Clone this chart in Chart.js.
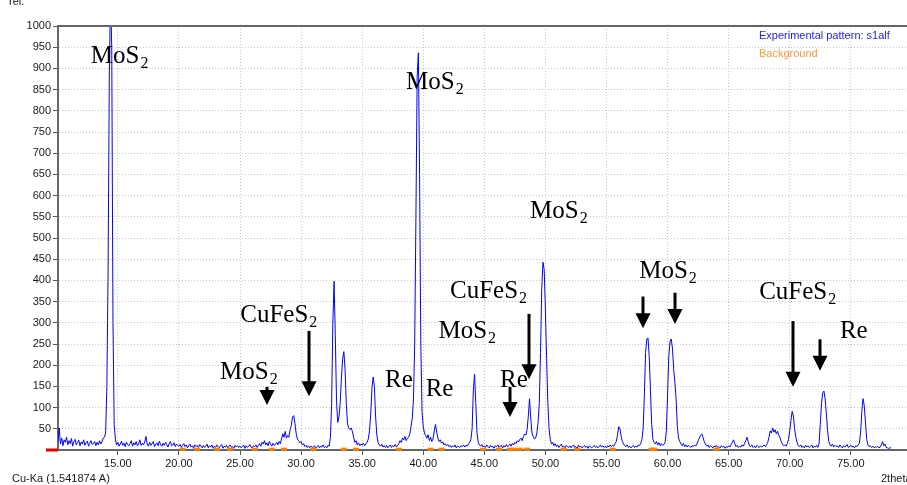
<!DOCTYPE html>
<html lang="en">
<head>
<meta charset="utf-8">
<title>XRD pattern s1alf</title>
<script src="https://cdn.jsdelivr.net/npm/chart.js"></script>
<style>
	html, body { margin: 0; padding: 0; background: #fff; }
	#wrap { width: 907px; height: 485px; }
</style>
</head>
<body>
<div id="wrap"><canvas id="xrd" width="907" height="485"></canvas></div>
<script>
// scan: 2theta from 10.1 deg, 0.1 deg apart; counts, one row per degree
const scanStart = 10.1;
const scanStep = 0.1;
const counts = [
	20, 52, 14, 28, 10, 24, 18, 30, 12,
	22, 15, 27, 9, 20, 25, 12, 18, 23, 10,
	19, 14, 24, 11, 17, 21, 9, 16, 22, 13,
	15, 20, 10, 18, 12, 22, 14, 19, 28, 30,
	40, 150, 420, 880, 1070, 950, 300, 60, 25, 12,
	18, 9, 14, 21, 11, 16, 8, 19, 13, 10,
	15, 22, 9, 17, 12, 20, 10, 14, 24, 11,
	16, 12, 19, 32, 14, 9, 18, 11, 15, 20,
	8, 14, 17, 10, 21, 12, 9, 16, 11, 18,
	13, 7, 15, 20, 10, 12, 17, 8, 14, 11,
	9, 13, 6, 11, 15, 8, 12, 5, 10, 14,
	7, 10, 4, 12, 8, 11, 6, 13, 9, 5,
	11, 6, 9, 14, 5, 10, 7, 12, 4, 9,
	6, 12, 8, 5, 10, 13, 4, 9, 7, 11,
	5, 9, 12, 6, 8, 4, 11, 7, 10, 6,
	9, 5, 8, 12, 4, 10, 6, 9, 13, 7,
	5, 10, 8, 12, 6, 11, 15, 9, 18, 14,
	22, 12, 17, 10, 20, 14, 9, 16, 11, 13,
	18, 12, 20, 15, 26, 38, 30, 44, 28, 34,
	30, 48, 58, 78, 81, 62, 38, 26, 22, 17,
	20, 12, 15, 8, 11, 6, 10, 5, 9, 7,
	6, 10, 4, 8, 11, 5, 9, 7, 12, 6,
	8, 5, 11, 9, 30, 110, 300, 398, 270, 115,
	65, 78, 110, 170, 215, 232, 190, 110, 62, 52,
	48, 52, 44, 30, 18, 22, 12, 17, 10, 14,
	12, 16, 10, 14, 18, 26, 45, 85, 145, 172,
	150, 78, 35, 18, 12, 9, 14, 7, 10, 6,
	11, 5, 9, 12, 6, 10, 8, 13, 7, 11,
	15, 22, 18, 28, 24, 32, 22, 28, 30, 38,
	55, 75, 120, 250, 550, 880, 937, 650, 250, 90,
	55, 40, 34, 28, 36, 22, 30, 20, 26, 45,
	60, 42, 28, 20, 24, 16, 19, 12, 15, 10,
	13, 8, 11, 6, 10, 7, 12, 5, 9, 8,
	6, 10, 8, 12, 7, 11, 9, 14, 18, 25,
	50, 140, 179, 110, 40, 18, 12, 9, 13, 7,
	10, 6, 12, 8, 5, 11, 7, 9, 4, 10,
	8, 12, 6, 9, 11, 5, 10, 7, 13, 8,
	10, 14, 9, 16, 12, 18, 15, 22, 19, 25,
	28, 22, 32, 38, 35, 48, 80, 121, 75, 40,
	32, 26, 28, 40, 65, 110, 230, 380, 443, 425,
	330, 215, 110, 50, 25, 14, 18, 10, 15, 8,
	12, 6, 10, 14, 7, 9, 5, 11, 8, 6,
	10, 5, 9, 12, 6, 8, 4, 11, 7, 9,
	5, 8, 11, 6, 9, 4, 10, 7, 5, 8,
	11, 6, 9, 5, 8, 12, 7, 10, 6, 9,
	5, 10, 7, 12, 8, 11, 9, 15, 20, 35,
	55, 50, 32, 20, 14, 10, 8, 12, 6, 9,
	5, 8, 11, 6, 9, 7, 12, 10, 15, 25,
	50, 130, 230, 262, 264, 220, 140, 60, 25, 18,
	14, 20, 12, 17, 10, 15, 11, 13, 18, 45,
	130, 220, 255, 262, 240, 190, 160, 120, 55, 28,
	20, 14, 10, 16, 8, 12, 7, 11, 9, 6,
	10, 8, 12, 9, 14, 22, 28, 34, 38, 30,
	20, 14, 9, 12, 6, 10, 8, 5, 9, 7,
	11, 6, 8, 5, 10, 7, 9, 4, 8, 6,
	10, 7, 12, 18, 24, 15, 8, 11, 6, 9,
	7, 12, 9, 15, 22, 30, 20, 10, 8, 12,
	6, 9, 5, 11, 8, 6, 10, 7, 9, 12,
	8, 12, 18, 30, 45, 40, 52, 42, 48, 38,
	44, 35, 30, 20, 14, 10, 12, 9, 15, 25,
	45, 70, 91, 80, 50, 30, 18, 10, 8, 12,
	6, 9, 5, 11, 7, 10, 6, 8, 12, 5,
	9, 7, 11, 6, 14, 60, 110, 135, 139, 120,
	85, 45, 20, 12, 9, 14, 7, 11, 8, 10,
	6, 12, 8, 5, 10, 7, 9, 13, 6, 8,
	11, 7, 9, 5, 10, 8, 12, 16, 40, 90,
	121, 105, 65, 25, 12, 8, 10, 6, 9, 5,
	8, 6, 9, 5, 7, 12, 20, 10, 14, 6,
	5, 3, 6, 4
];
const twoTheta = counts.map((c, i) => Math.round((scanStart + i * scanStep) * 10) / 10);

// background points (orange dashes along the base line)
const bgTheta = [20.3, 21.5, 23.1, 24.2, 26.2, 27.6, 28.6, 31.0, 33.5, 34.5, 38.0, 40.6, 41.5,
	44.9, 46.2, 47.1, 47.4, 47.9, 48.5, 51.5, 52.6, 55.5, 58.7, 58.9, 64.0];
const bgCounts = [2, 2, 2, 2, 2, 2, 2, 2, 2, 2, 2, 2, 2, 2, 2, 2, 2, 2, 2, 2, 2, 2, 2, 2, 2];

const xTicks = [15, 20, 25, 30, 35, 40, 45, 50, 55, 60, 65, 70, 75];
const yTicks = [50, 100, 150, 200, 250, 300, 350, 400, 450, 500, 550, 600, 650, 700, 750, 800, 850, 900, 950, 1000];

// phase labels: text, subscript, left edge (2theta), baseline (counts)
const phaseText = ['MoS', 'MoS', 'MoS', 'CuFeS', 'MoS', 'Re', 'Re', 'MoS', 'CuFeS', 'Re', 'MoS', 'CuFeS', 'Re'];
const phaseSub = ['2', '2', '2', '2', '2', '', '', '2', '2', '', '2', '2', ''];
const phaseTheta = [12.79, 38.59, 48.74, 25.02, 23.37, 36.87, 40.2, 41.24, 42.19, 46.28, 57.68, 67.5, 74.11];
const phaseCounts = [912, 851, 546, 303, 167, 149, 127, 265, 358, 149, 405, 355, 265];

// arrows: 2theta, tail (counts), tip (counts)
const arrowTheta = [27.24, 30.68, 47.1, 48.66, 57.96, 60.6, 70.29, 72.47];
const arrowFrom = [149, 281, 149, 321, 362, 371, 304, 261];
const arrowTo = [106, 127, 78, 167, 287, 297, 149, 187];

Chart.defaults.font.family = '"Liberation Sans", Arial, sans-serif';
Chart.defaults.font.size = 11;
Chart.defaults.color = '#1a1a1a';

const decor = {
	id: 'decor',
	afterDatasetsDraw(chart) {
		const ctx = chart.ctx;
		const a = chart.chartArea;
		const xs = chart.scales.x;
		const ys = chart.scales.y;
		ctx.save();

		// top frame line
		ctx.fillStyle = '#666';
		ctx.fillRect(a.left, a.top - 1, a.right - a.left, 2);

		// red zero marker left of the axis
		ctx.fillStyle = '#e00000';
		ctx.fillRect(a.left - 12, ys.getPixelForValue(0) - 1.5, 12, 3);

		// phase labels
		ctx.fillStyle = '#000';
		ctx.textBaseline = 'alphabetic';
		ctx.textAlign = 'left';
		for (let i = 0; i < phaseText.length; i++) {
			const px = xs.getPixelForValue(phaseTheta[i]);
			const py = ys.getPixelForValue(phaseCounts[i]);
			ctx.font = '25px "Liberation Serif", "Times New Roman", serif';
			ctx.fillText(phaseText[i], px, py);
			if (phaseSub[i]) {
				const w = ctx.measureText(phaseText[i]).width;
				ctx.font = '16px "Liberation Serif", "Times New Roman", serif';
				ctx.fillText(phaseSub[i], px + w + 1, py + 5);
			}
		}

		// arrows
		ctx.strokeStyle = '#000';
		ctx.lineWidth = 3;
		for (let i = 0; i < arrowTheta.length; i++) {
			const px = Math.round(xs.getPixelForValue(arrowTheta[i]));
			const y0 = ys.getPixelForValue(arrowFrom[i]);
			const y1 = ys.getPixelForValue(arrowTo[i]);
			ctx.beginPath();
			ctx.moveTo(px, y0);
			ctx.lineTo(px, y1 - 12);
			ctx.stroke();
			ctx.beginPath();
			ctx.moveTo(px - 7.5, y1 - 15);
			ctx.lineTo(px + 7.5, y1 - 15);
			ctx.lineTo(px, y1);
			ctx.closePath();
			ctx.fill();
		}

		// legend
		ctx.font = '11px "Liberation Sans", Arial, sans-serif';
		ctx.textBaseline = 'middle';
		ctx.fillStyle = '#2020ff';
		ctx.fillText(chart.data.datasets[0].label, a.right - 148, 36);
		ctx.fillStyle = '#ff9933';
		ctx.fillText(chart.data.datasets[1].label, a.right - 148, 54);

		// axis captions
		ctx.fillStyle = '#1a1a1a';
		ctx.fillText('Cu-Ka (1.541874 A)', 12, 479);
		ctx.fillText('2theta', 881, 479);
		ctx.textBaseline = 'alphabetic';
		ctx.fillText('rel.', 9, 5);
		ctx.restore();
	}
};

const chart = new Chart(document.getElementById('xrd'), {
	type: 'line',
	data: {
		datasets: [{
			label: 'Experimental pattern: s1alf',
			data: twoTheta.map((t, i) => ({ x: t, y: counts[i] })),
			borderColor: '#0000ff',
			borderWidth: 1,
			pointRadius: 0,
			tension: 0,
			order: 1
		}, {
			label: 'Background',
			data: bgTheta.map((t, i) => ({ x: t, y: bgCounts[i] })),
			showLine: false,
			pointStyle: 'line',
			pointRadius: 3,
			borderColor: '#ff8000',
			borderWidth: 3,
			clip: false,
			order: 0
		}]
	},
	options: {
		responsive: false,
		animation: false,
		devicePixelRatio: 1,
		layout: { autoPadding: false, padding: { top: 26, left: 0, right: 0, bottom: 0 } },
		plugins: { legend: { display: false }, tooltip: { enabled: false } },
		scales: {
			x: {
				type: 'linear',
				min: 10.1,
				max: 79.6,
				afterBuildTicks: s => { s.ticks = xTicks.map(v => ({ value: v })); },
				afterFit: s => { s.height = 35; },
				ticks: { autoSkip: false, maxRotation: 0, padding: 2, callback: v => v.toFixed(2) },
				grid: { color: '#c8c8c8', tickLength: 5, tickColor: '#555' },
				border: { color: '#666', width: 2, dash: [1, 2] }
			},
			y: {
				min: 0,
				max: 1000,
				afterBuildTicks: s => { s.ticks = yTicks.map(v => ({ value: v })); },
				afterFit: s => { s.width = 58; },
				ticks: { autoSkip: false, padding: 2, callback: v => String(v) },
				grid: { color: '#c8c8c8', tickLength: 5, tickColor: '#555' },
				border: { color: '#666', width: 2, dash: [1, 2] }
			}
		}
	},
	plugins: [decor]
});
</script>
</body>
</html>
